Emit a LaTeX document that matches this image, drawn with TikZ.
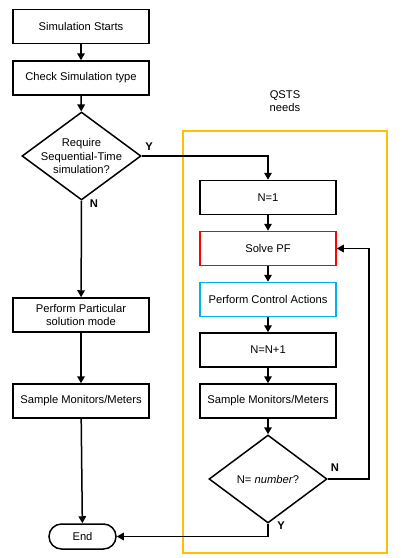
\documentclass[tikz,border=0pt]{standalone}
\usepackage{fontspec}
\setmainfont{Liberation Sans}
\usetikzlibrary{shapes.geometric,shapes.misc,arrows.meta}
\definecolor{qyellow}{HTML}{FFC000}
\definecolor{qred}{HTML}{FF0000}
\definecolor{qcyan}{HTML}{00B0F0}
\begin{document}
\begin{tikzpicture}[x=1pt,y=-1pt,
  font=\fontsize{11.2}{13.5}\selectfont,
  box/.style={draw=black,line width=1.5pt,minimum width=136pt,minimum height=34pt,inner sep=1pt,align=center},
  dec/.style={draw=black,line width=1.5pt,diamond,aspect=1.35,inner xsep=-8pt,inner ysep=-5pt,minimum width=119pt,minimum height=88pt,align=center},
  term/.style={draw=black,line width=1.5pt,rounded rectangle,minimum width=69pt,minimum height=25pt,inner sep=1pt},
  arr/.style={line width=1.5pt,-{Triangle[length=7pt,width=7.5pt]}},
  lab/.style={font=\fontsize{11.2}{13.5}\selectfont\bfseries,inner sep=0pt}]
\useasboundingbox (0,0) rectangle (418,558);
% QSTS frame
\draw[qyellow,line width=1.8pt] (183,131) rectangle (387,553);
\node[align=center,inner sep=0pt] (qsts) at (285,101) {QSTS\\needs};
% left column
\node[box] (start) at (81,26.5) {Simulation Starts};
\node[box] (check) at (81,78) {Check Simulation type};
\node[dec] (req) at (81.5,156) {Require\\Sequential-Time\\simulation?};
\node[box] (ppsm) at (81,315) {Perform Particular\\solution mode};
\node[box] (sml) at (81,401) {Sample Monitors/Meters};
\node[term] (end) at (82.5,536.5) {End};
% right column
\node[box] (n1) at (268,197.5) {N=1};
\node[box,draw=qred] (spf) at (268,248.5) {Solve PF};
\node[box,draw=qcyan] (pca) at (268,299.5) {Perform Control Actions};
\node[box] (nn1) at (268,350) {N=N+1};
\node[box] (smr) at (268,401) {Sample Monitors/Meters};
\node[dec,minimum width=118pt] (num) at (268,479) {N= \textit{number}?};
\coordinate (loop) at (369,479);
% connectors
\draw[arr] (start) -- (check);
\draw[arr] (check) -- (req);
\draw[arr] (req.south) -- (ppsm);
\draw[arr] (ppsm) -- (sml);
\draw[arr] (sml) -- (end);
\draw[arr] (req.east) -| (n1.north);
\draw[arr] (n1) -- (spf);
\draw[arr] (spf) -- (pca);
\draw[arr] (pca) -- (nn1);
\draw[arr] (nn1) -- (smr);
\draw[arr] (smr) -- (num);
\draw[arr] (num.east) -- (loop) |- (spf.east);
\draw[arr] (num.south) |- (end.east);
% labels
\node[lab] (ly1) at (149,147) {Y};
\node[lab] (ln1) at (94,204) {N};
\node[lab] (ln2) at (335,468) {N};
\node[lab] (ly2) at (281,526) {Y};
\end{tikzpicture}
\end{document}
